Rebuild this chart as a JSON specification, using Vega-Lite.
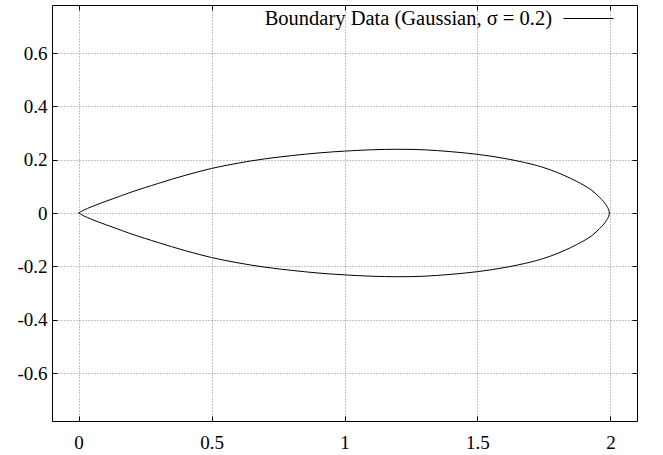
{
  "$schema": "https://vega.github.io/schema/vega-lite/v6.json",
  "width": 585,
  "height": 416,
  "autosize": "none",
  "padding": {"left": 52, "top": 5, "right": 26, "bottom": 34},
  "background": "white",
  "config": {
    "view": {"stroke": "black", "strokeWidth": 1},
    "font": "Liberation Serif",
    "axis": {
      "domain": false,
      "tickColor": "black",
      "tickSize": -5,
      "tickWidth": 1,
      "labelFont": "Liberation Serif",
      "labelFontSize": 19,
      "labelColor": "black",
      "gridColor": "#888888",
      "gridDash": [1, 2],
      "gridWidth": 1,
      "title": null
    }
  },
  "data": {
    "values": [
      {"i": 0, "x": 0, "y": 0},
      {"i": 1, "x": 0.02, "y": 0.011},
      {"i": 2, "x": 0.05, "y": 0.024},
      {"i": 3, "x": 0.1, "y": 0.043},
      {"i": 4, "x": 0.15, "y": 0.061},
      {"i": 5, "x": 0.2, "y": 0.079},
      {"i": 6, "x": 0.3, "y": 0.111},
      {"i": 7, "x": 0.4, "y": 0.141},
      {"i": 8, "x": 0.5, "y": 0.167},
      {"i": 9, "x": 0.6, "y": 0.187},
      {"i": 10, "x": 0.7, "y": 0.203},
      {"i": 11, "x": 0.8, "y": 0.215},
      {"i": 12, "x": 0.9, "y": 0.225},
      {"i": 13, "x": 1.0, "y": 0.232},
      {"i": 14, "x": 1.1, "y": 0.237},
      {"i": 15, "x": 1.2, "y": 0.239},
      {"i": 16, "x": 1.3, "y": 0.237},
      {"i": 17, "x": 1.4, "y": 0.230},
      {"i": 18, "x": 1.5, "y": 0.220},
      {"i": 19, "x": 1.6, "y": 0.205},
      {"i": 20, "x": 1.7, "y": 0.184},
      {"i": 21, "x": 1.75, "y": 0.170},
      {"i": 22, "x": 1.8, "y": 0.152},
      {"i": 23, "x": 1.85, "y": 0.130},
      {"i": 24, "x": 1.9, "y": 0.104},
      {"i": 25, "x": 1.93, "y": 0.085},
      {"i": 26, "x": 1.96, "y": 0.058},
      {"i": 27, "x": 1.975, "y": 0.042},
      {"i": 28, "x": 1.985, "y": 0.028},
      {"i": 29, "x": 1.993, "y": 0.014},
      {"i": 30, "x": 1.996, "y": 0},
      {"i": 31, "x": 1.993, "y": -0.014},
      {"i": 32, "x": 1.985, "y": -0.028},
      {"i": 33, "x": 1.975, "y": -0.042},
      {"i": 34, "x": 1.96, "y": -0.058},
      {"i": 35, "x": 1.93, "y": -0.085},
      {"i": 36, "x": 1.9, "y": -0.104},
      {"i": 37, "x": 1.85, "y": -0.130},
      {"i": 38, "x": 1.8, "y": -0.152},
      {"i": 39, "x": 1.75, "y": -0.170},
      {"i": 40, "x": 1.7, "y": -0.184},
      {"i": 41, "x": 1.6, "y": -0.205},
      {"i": 42, "x": 1.5, "y": -0.220},
      {"i": 43, "x": 1.4, "y": -0.230},
      {"i": 44, "x": 1.3, "y": -0.237},
      {"i": 45, "x": 1.2, "y": -0.239},
      {"i": 46, "x": 1.1, "y": -0.237},
      {"i": 47, "x": 1.0, "y": -0.232},
      {"i": 48, "x": 0.9, "y": -0.225},
      {"i": 49, "x": 0.8, "y": -0.215},
      {"i": 50, "x": 0.7, "y": -0.203},
      {"i": 51, "x": 0.6, "y": -0.187},
      {"i": 52, "x": 0.5, "y": -0.167},
      {"i": 53, "x": 0.4, "y": -0.141},
      {"i": 54, "x": 0.3, "y": -0.111},
      {"i": 55, "x": 0.2, "y": -0.079},
      {"i": 56, "x": 0.15, "y": -0.061},
      {"i": 57, "x": 0.1, "y": -0.043},
      {"i": 58, "x": 0.05, "y": -0.024},
      {"i": 59, "x": 0.02, "y": -0.011},
      {"i": 60, "x": 0, "y": 0}
    ]
  },
  "layer": [
    {
      "mark": {"type": "line", "strokeWidth": 1, "interpolate": "catmull-rom"},
      "encoding": {
        "x": {
          "field": "x", "type": "quantitative",
          "scale": {"domain": [-0.1, 2.1], "nice": false, "zero": false},
          "axis": {"orient": "bottom", "values": [0, 0.5, 1, 1.5, 2], "labelExpr": "'' + datum.value", "labelPadding": 17, "grid": true}
        },
        "y": {
          "field": "y", "type": "quantitative",
          "scale": {"domain": [-0.78, 0.78], "nice": false, "zero": false},
          "axis": {"orient": "left", "values": [-0.6, -0.4, -0.2, 0, 0.2, 0.4, 0.6], "labelExpr": "'' + datum.value", "labelPadding": 10, "grid": true}
        },
        "order": {"field": "i", "type": "quantitative"},
        "color": {
          "datum": "Boundary Data (Gaussian, σ = 0.2)",
          "type": "nominal",
          "scale": {"range": ["black"]},
          "legend": {
            "title": null,
            "orient": "none",
            "legendX": 511,
            "legendY": -12,
            "symbolType": "stroke",
            "symbolSize": 2500,
            "symbolStrokeWidth": 1,
            "labelFont": "Liberation Serif",
            "labelFontSize": 20.5,
            "labelColor": "black",
            "labelAlign": "right",
            "labelOffset": -62,
            "labelLimit": 500,
            "padding": 0
          }
        }
      }
    },
    {
      "mark": {"type": "line", "opacity": 0},
      "encoding": {
        "x": {
          "field": "x", "type": "quantitative",
          "axis": {"orient": "top", "values": [0, 0.5, 1, 1.5, 2], "labels": false, "grid": false}
        },
        "y": {
          "field": "y", "type": "quantitative",
          "axis": {"orient": "right", "values": [-0.6, -0.4, -0.2, 0, 0.2, 0.4, 0.6], "labels": false, "grid": false}
        },
        "order": {"field": "i", "type": "quantitative"}
      }
    }
  ],
  "resolve": {"axis": {"x": "independent", "y": "independent"}}
}
